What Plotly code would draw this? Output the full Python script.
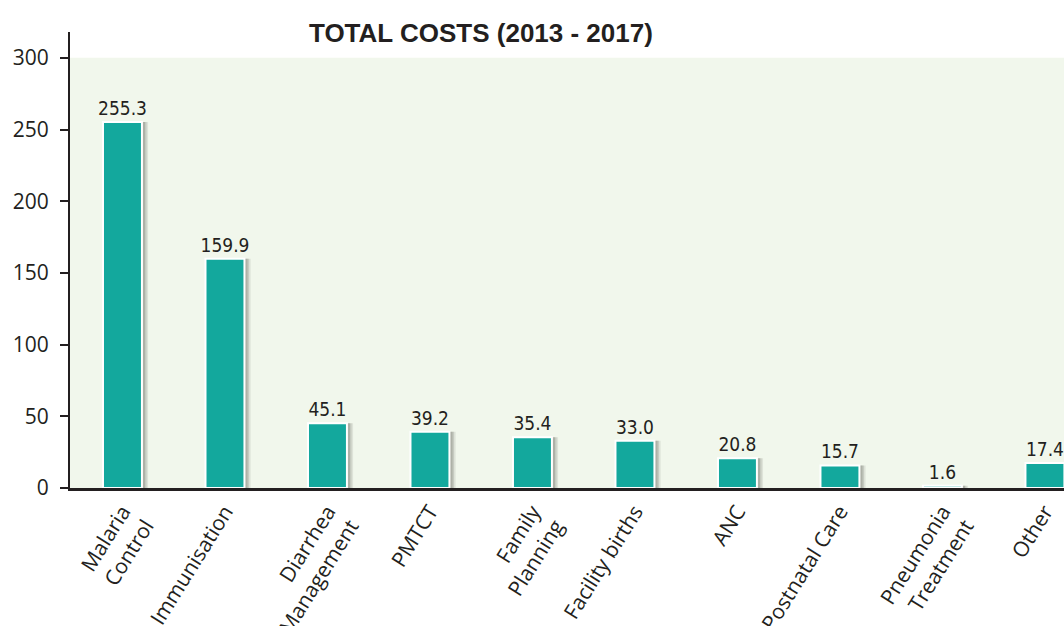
import plotly.graph_objects as go

categories = ["Malaria<br>Control", "Immunisation", "Diarrhea<br>Management", "PMTCT",
              "Family<br>Planning", "Facility births", "ANC", "Postnatal Care",
              "Pneumonia<br>Treatment", "Other"]
values = [255.3, 159.9, 45.1, 39.2, 35.4, 33.0, 20.8, 15.7, 1.6, 17.4]
value_labels = ["255.3", "159.9", "45.1", "39.2", "35.4", "33.0", "20.8", "15.7", "1.6", "17.4"]
y_ticks = [0, 50, 100, 150, 200, 250, 300]

BAR = "#13A89D"
INK = "#231F20"
BW = 0.38

fig = go.Figure()
# soft shadow behind bars
for dx, op in [(0.06, 0.10), (0.045, 0.14), (0.03, 0.18)]:
    fig.add_trace(go.Bar(
        x=categories, y=values, width=BW, offset=-BW / 2 + dx,
        marker=dict(color=f"rgba(60,60,50,{op})", line=dict(width=0)),
        hoverinfo="skip", showlegend=False))
fig.add_trace(go.Bar(
    x=categories, y=values, width=BW, offset=-BW / 2,
    marker=dict(color=BAR, line=dict(color="white", width=2)),
    text=value_labels, textposition="outside", cliponaxis=False,
    constraintext="none",
    textfont=dict(family="Liberation Sans Narrow, DejaVu Sans Condensed, Liberation Sans, Arial",
                  size=19, color=INK),
    showlegend=False))

fig.add_shape(type="rect", xref="paper", yref="y", x0=0, x1=1, y0=0, y1=300,
              fillcolor="#F1F7EC", line=dict(width=0), layer="below")

fig.update_layout(
    width=1064, height=626,
    margin=dict(l=70, r=0, t=32, b=138, autoexpand=False),
    paper_bgcolor="white", plot_bgcolor="white",
    barmode="overlay",
    title=dict(text="<b>TOTAL COSTS (2013 - 2017)</b>", x=0.452, xanchor="center",
               y=1 - 33 / 626, yref="container", yanchor="middle",
               font=dict(family="Liberation Sans, Arial", size=26, color=INK)),
    xaxis=dict(type="category", range=[-0.512, 9.186], showgrid=False, automargin=False,
               showline=True, linecolor=INK, linewidth=3, ticks="",
               tickangle=-58,
               tickfont=dict(family="Open Sans", size=21, color=INK)),
    yaxis=dict(range=[0, 318], tickvals=y_ticks, showgrid=False, zeroline=False,
               automargin=False,
               showline=True, linecolor=INK, linewidth=2, ticks="outside",
               ticklen=8, tickwidth=2, tickcolor=INK, ticklabelstandoff=7,
               tickfont=dict(family="Open Sans", size=21, color=INK)),
)

fig.write_html("out.html", config={"displayModeBar": False},
               post_script="document.body.style.margin='0px';")
